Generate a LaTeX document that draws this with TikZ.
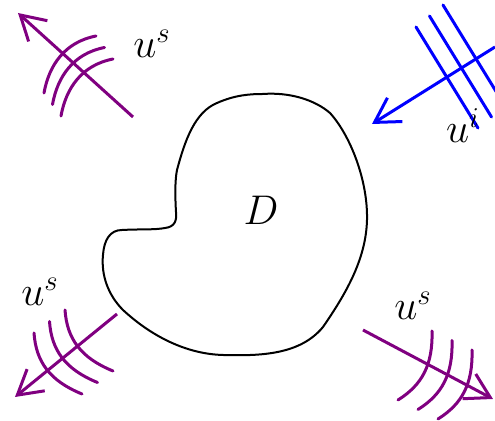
\documentclass[tikz,border=0pt]{standalone}
\usepackage{tikz}
\usetikzlibrary{arrows.meta, calc}
\usepackage{xcolor}
\definecolor{wavepurple}{HTML}{800080}
\definecolor{waveblue}{HTML}{0000FF}

\begin{document}
\begin{tikzpicture}[x=0.5pt, y=-0.5pt,
  wave/.style={line width=1.5pt, line cap=round},
  ray/.style={line width=1.5pt, -{Straight Barb[length=12pt,width=14pt]}},
  lbl/.style={font=\huge}]
  \useasboundingbox (0,0) rectangle (495,421);

  % Obstacle
  \draw[line width=1pt] (263,94)
    .. controls (290,92) and (315,100) .. (330,113)
    .. controls (350,135) and (368,180) .. (367,220)
    .. controls (366,260) and (345,295) .. (323,327)
    .. controls (300,355) and (260,356) .. (223,355)
    .. controls (185,354) and (150,335) .. (123,310)
    .. controls (108,295) and (101,275) .. (103,255)
    .. controls (104,240) and (110,230) .. (122,230)
    .. controls (140,229) and (155,230) .. (165,228)
    .. controls (175,227) and (177,220) .. (176,212)
    .. controls (175,195) and (175,180) .. (177,170)
    .. controls (185,140) and (195,112) .. (217,103)
    .. controls (235,95) and (250,94) .. cycle;
  \node[lbl] (obst) at (261,210) {$D$};

  % Incident wave
  \foreach \k in {0,1,2}
    \draw[wave, waveblue, shift={(\k*13.5,-\k*11)}] (416,27) -- (478,128);
  \coordinate (inc-a) at (495,47);
  \coordinate (inc-b) at (372,124);
  \draw[ray, waveblue] (inc-a) -- (inc-b);
  \node[lbl] (ui) at (463,126) {$u^i$};

  % Scattered wave, top left
  \foreach \k in {0,1,2}
    \draw[wave, wavepurple, shift={(\k*8.5,\k*11.5)}]
      (44,93) .. controls (49,65) and (65,42) .. (96,36);
  \coordinate (tl-a) at (133,117);
  \coordinate (tl-b) at (18,13);
  \draw[ray, wavepurple] (tl-a) -- (tl-b);
  \node[lbl] (us-tl) at (152,44) {$u^s$};

  % Scattered wave, bottom left
  \foreach \k in {0,1,2}
    \draw[wave, wavepurple, shift={(\k*15.5,-\k*11.5)}]
      (34,333) .. controls (36,362) and (50,381) .. (82,394);
  \coordinate (bl-a) at (117,314);
  \coordinate (bl-b) at (15,397);
  \draw[ray, wavepurple] (bl-a) -- (bl-b);
  \node[lbl] (us-bl) at (40,292) {$u^s$};

  % Scattered wave, bottom right
  \foreach \k in {0,1,2}
    \draw[wave, wavepurple, shift={(\k*20,\k*9.5)}]
      (432,331) .. controls (433,365) and (422,385) .. (398,400);
  \coordinate (br-a) at (363,330);
  \coordinate (br-b) at (493,399);
  \draw[ray, wavepurple] (br-a) -- (br-b);
  \node[lbl] (us-br) at (413,306) {$u^s$};
\end{tikzpicture}
\end{document}
